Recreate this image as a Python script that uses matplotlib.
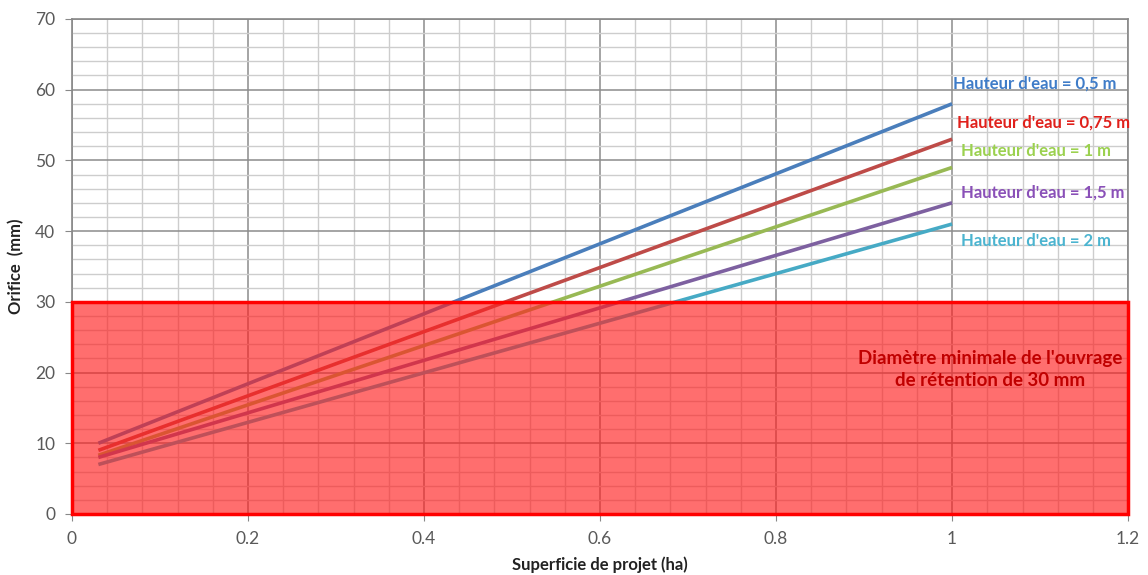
import matplotlib.pyplot as plt
from matplotlib.patches import Rectangle
from matplotlib.ticker import MultipleLocator, FuncFormatter

plt.rcParams['font.family'] = ['Lato', 'DejaVu Sans']

# data
superficie = [0.03, 1.0]
h_05 = [10.0, 58.0]
h_075 = [9.0, 53.0]
h_1 = [8.3, 49.0]
h_15 = [8.0, 44.0]
h_2 = [7.0, 41.0]
series_labels = ["Hauteur d'eau = 0,5 m", "Hauteur d'eau = 0,75 m", "Hauteur d'eau = 1 m",
                 "Hauteur d'eau = 1,5 m", "Hauteur d'eau = 2 m"]
line_colors = ['#4A7EBB', '#BE4B48', '#98B954', '#7D60A0', '#46AAC5']
text_colors = ['#3F7CC8', '#E0201B', '#9BD14F', '#8A50B8', '#4BB4D0']
label_y = [60.8, 55.3, 51.3, 45.4, 38.6]
label_x = [1.001, 1.006, 1.01, 1.01, 1.01]
seuil = 30

fig = plt.figure(figsize=(11.48, 5.75), dpi=100)
ax = fig.add_axes([0.0627, 0.1061, 0.92, 0.861])

for vals, c in zip([h_05, h_075, h_1, h_15, h_2], line_colors):
    ax.plot(superficie, vals, color=c, lw=2.6, zorder=3, solid_capstyle='butt')

for lab, xx, yy, c in zip(series_labels, label_x, label_y, text_colors):
    ax.text(xx, yy, lab, color=c, fontsize=12, fontweight='bold', va='center', ha='left', zorder=5,
            clip_on=False)

# zone under the minimum diameter
ax.add_patch(Rectangle((0, 0), 1.2, seuil, facecolor='#FF2020', alpha=0.65, edgecolor='none', zorder=4))
ax.add_patch(Rectangle((0, 0), 1.2, seuil, facecolor='none', edgecolor='#FF0000', lw=2.5, zorder=4.5,
                       clip_on=False))
ax.text(1.043, 20.4, "Diamètre minimale de l'ouvrage\nde rétention de 30 mm", color='#C00000',
        fontsize=13.5, fontweight='bold', ha='center', va='center', zorder=5, linespacing=1.35)

ax.set_xlim(0, 1.2)
ax.set_ylim(0, 70)
ax.xaxis.set_major_locator(MultipleLocator(0.2))
ax.xaxis.set_minor_locator(MultipleLocator(0.04))
ax.yaxis.set_major_locator(MultipleLocator(10))
ax.yaxis.set_minor_locator(MultipleLocator(2))
ax.xaxis.set_major_formatter(FuncFormatter(lambda v, p: '%g' % round(v, 2)))
ax.grid(which='major', color='#8C8C8C', lw=1.1, zorder=1)
ax.grid(which='minor', color='#CDCDCD', lw=1.0, zorder=1)
ax.set_axisbelow(True)
ax.tick_params(which='major', length=5, color='#888888', labelcolor='#595959', labelsize=12.5, pad=7)
ax.tick_params(which='minor', length=0)
for s in ax.spines.values():
    s.set_color('#888888')
    s.set_linewidth(1.2)

ax.set_xlabel('Superficie de projet (ha)', fontsize=12, fontweight='bold', color='#222222', labelpad=7)
ax.set_ylabel('Orifice  (mm)', fontsize=12, fontweight='bold', color='#222222', labelpad=8)

fig.savefig('out.png', dpi=100)
